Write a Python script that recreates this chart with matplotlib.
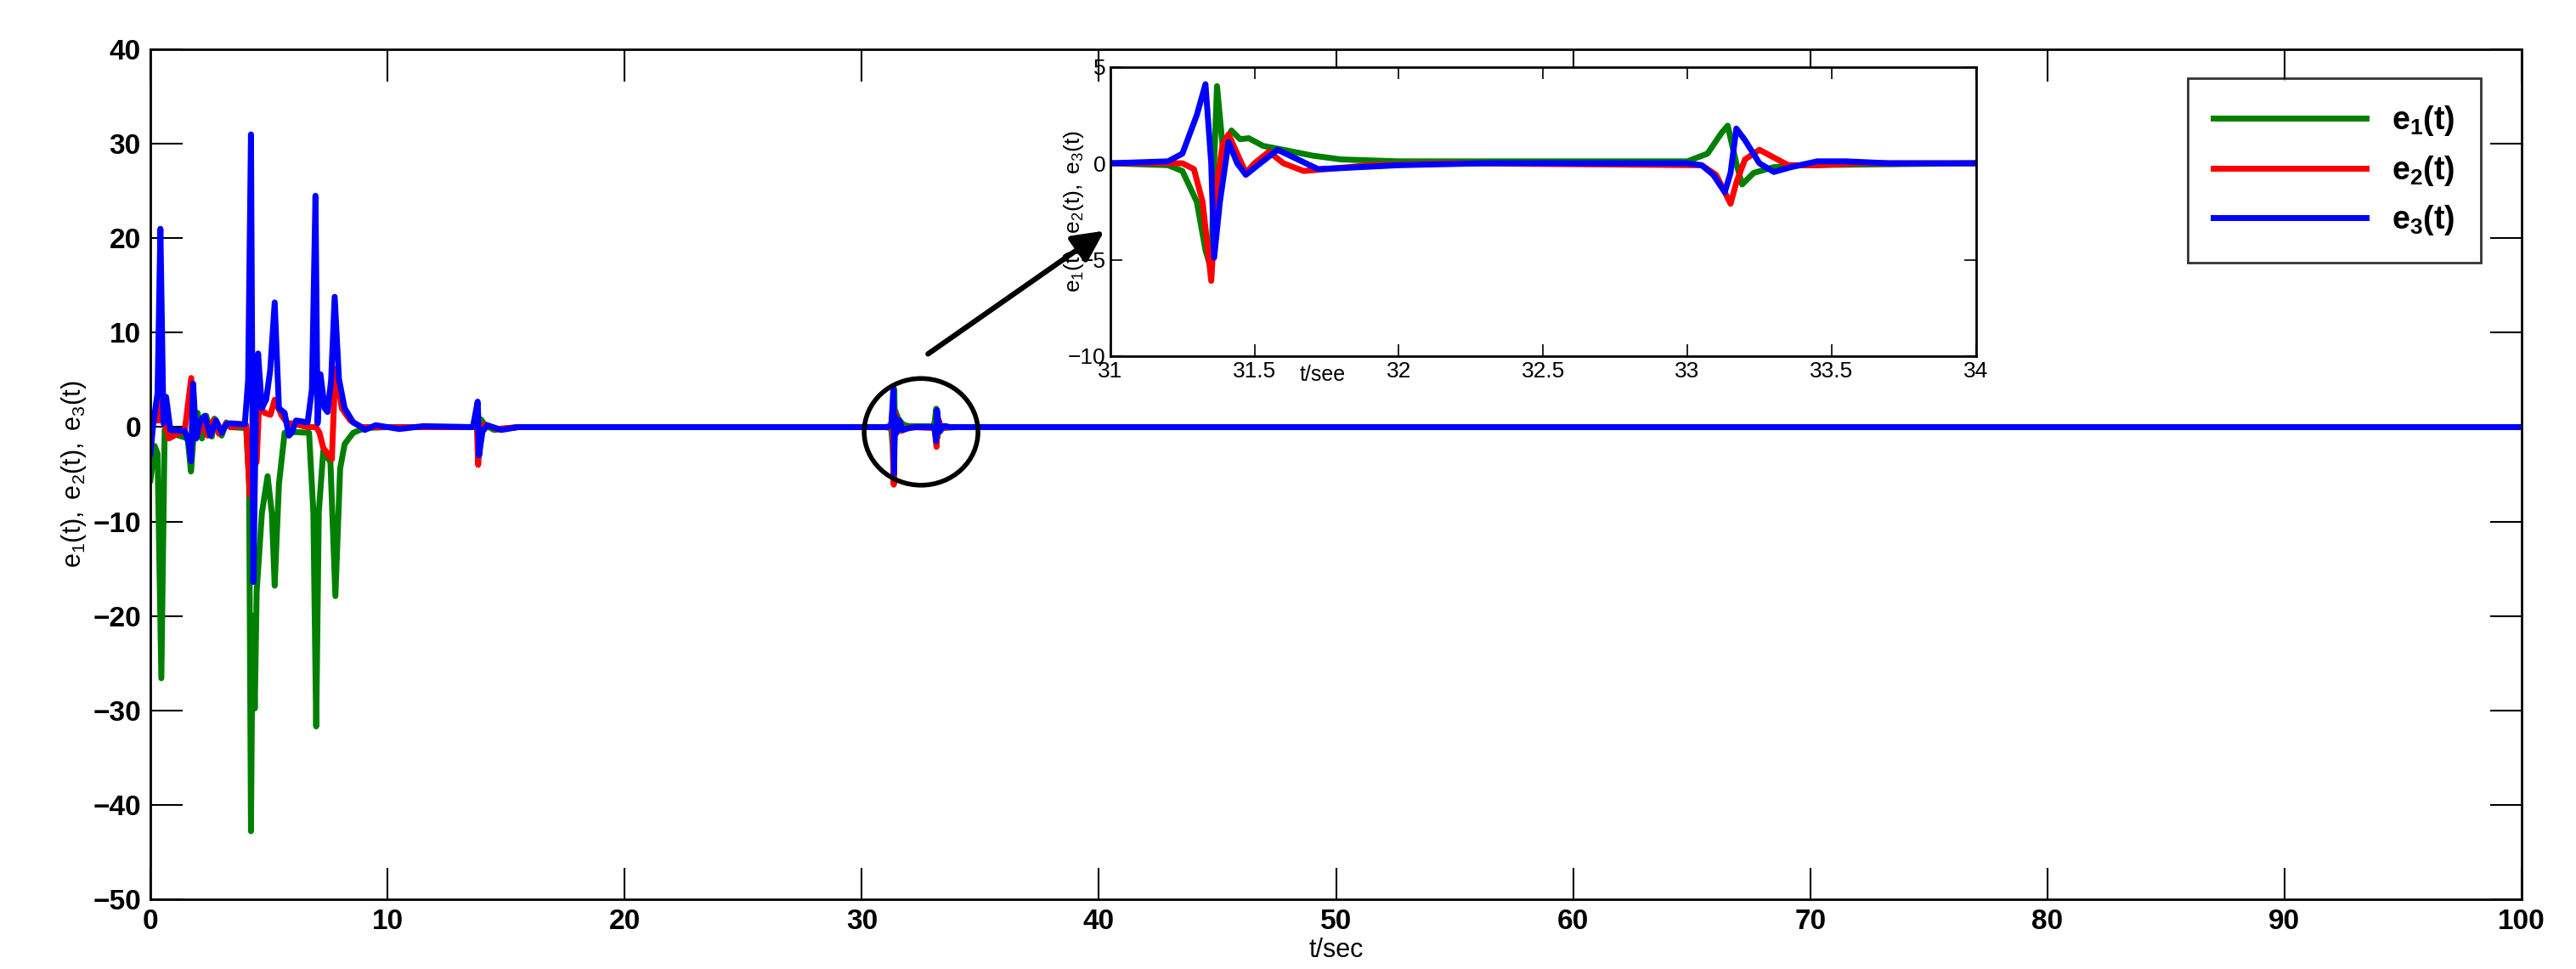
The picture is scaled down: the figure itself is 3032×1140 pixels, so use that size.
import matplotlib
matplotlib.use("Agg")
import matplotlib.pyplot as plt
from matplotlib.patches import Ellipse

# ---- data ----
t_e1 = [0, 0.18, 0.3, 0.46, 0.6, 0.72, 0.96, 1.57, 1.71, 1.83, 1.99, 2.17, 2.35, 2.59, 2.7, 3.0, 3.2, 3.37,
        4.04, 4.16, 4.24, 4.31, 4.4, 4.48, 4.7, 4.94, 5.12, 5.24, 5.42, 5.66, 5.9, 6.69, 6.87, 6.99, 7.1, 7.29,
        7.59, 7.8, 8.0, 8.19, 8.55, 9.04, 10, 13.7, 13.8, 13.86, 13.95, 14.1, 14.5, 15.5,
        31.0, 31.2, 31.25, 31.3, 31.33, 31.35, 31.36, 31.37, 31.39, 31.42, 31.45, 31.48, 31.53, 31.6, 31.7,
        31.8, 32.0, 33.0, 33.07, 33.12, 33.14, 33.17, 33.19, 33.23, 33.3, 33.4, 34.0, 100]
v_e1 = [-5.6, -2.0, -2.8, -26.6, -0.3, -0.9, -0.7, -1.2, -4.7, -0.6, 1.5, -1.2, 1.2, -1.0, 0.9, -0.9, 0.5, 0.0,
        -0.1, -6.0, -42.8, -20.0, -29.8, -17.4, -9.1, -5.2, -9.1, -16.8, -6.0, -0.6, -0.5, -0.6, -9.0, -31.7, -9.0, -2.5,
        -3.7, -17.9, -4.4, -1.8, -0.6, -0.1, 0.0, 0.0, 2.5, -1.0, 0.8, 0.2, -0.3, 0.0,
        0.0, -0.1, -0.4, -2.0, -4.5, -5.5, 0.0, 4.0, 0.8, 1.7, 1.25, 1.3, 0.9, 0.7, 0.4,
        0.2, 0.1, 0.1, 0.5, 1.6, 1.95, 0.0, -1.1, -0.5, -0.2, -0.1, 0.0, 0.0]

t_e2 = [0, 0.24, 0.36, 0.46, 0.6, 0.78, 1.45, 1.72, 1.83, 1.99, 2.17, 2.41, 2.65, 2.89, 3.2, 3.37, 4.04, 4.19,
        4.31, 4.48, 4.58, 4.82, 5.06, 5.24, 5.54, 5.78, 5.96, 6.63, 6.99, 7.13, 7.29, 7.65, 7.8, 8.07, 8.43, 8.9,
        13.6, 13.75, 13.82, 13.9, 14.1, 14.6, 15.5,
        31.0, 31.25, 31.29, 31.32, 31.35, 31.37, 31.39, 31.41, 31.44, 31.47, 31.5, 31.55, 31.6, 31.67, 31.75, 31.9,
        32.2, 33.05, 33.1, 33.15, 33.17, 33.2, 33.25, 33.3, 33.35, 33.45, 33.6, 34.0, 100]
v_e2 = [1.5, 0.7, 0.7, 4.4, 0.4, -1.2, -0.3, 5.2, -1.2, -0.9, 0.8, -0.9, 0.7, -0.7, 0.4, 0.0, 0.2, -7.2,
        -4.4, -3.7, 2.3, 1.5, 1.3, 2.9, 1.2, 0.4, 0.4, 0.0, 0.0, -0.6, -2.2, -3.4, 6.2, 2.0, 0.7, 0.0,
        0.0, 1.5, -4.0, -0.6, 0.3, -0.2, 0.0,
        0.0, 0.0, -0.3, -2.0, -6.1, -1.0, 1.0, 1.5, 0.5, -0.5, 0.0, 0.6, 0.0, -0.4, -0.3, -0.1,
        0.0, -0.1, -0.6, -2.1, -1.0, 0.2, 0.7, 0.3, -0.1, -0.1, 0.0, 0.0, 0.0]

t_e3 = [0, 0.12, 0.3, 0.42, 0.55, 0.66, 0.84, 1.45, 1.63, 1.71, 1.8, 1.93, 2.1, 2.29, 2.53, 2.77, 3.01, 3.2,
        3.37, 3.98, 4.12, 4.24, 4.34, 4.46, 4.54, 4.7, 4.88, 5.05, 5.24, 5.42, 5.66, 5.84, 5.96, 6.14, 6.63,
        6.81, 6.96, 7.05, 7.17, 7.35, 7.47, 7.62, 7.77, 7.95, 8.19, 8.55, 8.9, 9.04, 9.5, 10.5, 11.5,
        13.6, 13.8, 13.86, 14.0, 14.2, 14.8, 15.5,
        31.0, 31.2, 31.25, 31.3, 31.33, 31.35, 31.36, 31.38, 31.41, 31.44, 31.47, 31.52, 31.58, 31.65, 31.72,
        31.8, 32.0, 32.3, 33.0, 33.05, 33.09, 33.13, 33.15, 33.17, 33.2, 33.25, 33.3, 33.36, 33.45, 33.55,
        33.7, 34.0, 100]
v_e3 = [-2.8, 0.4, 3.6, 21.0, 0.4, 3.2, -0.3, -0.4, -1.8, -3.6, 4.6, -1.2, 0.7, 1.2, -0.9, 0.7, -0.6, 0.3,
        0.4, 0.3, 5.0, 31.0, -16.4, 3.6, 7.8, 2.0, 2.9, 6.0, 13.2, 2.0, 1.5, -0.9, -0.6, 0.7, 0.5,
        4.0, 24.5, 0.4, 5.6, 2.0, 1.6, 5.0, 13.8, 5.1, 2.0, 0.5, 0.0, -0.3, 0.2, -0.2, 0.1,
        0.0, 2.7, -3.0, -0.5, 0.2, -0.3, 0.0,
        0.0, 0.1, 0.5, 2.5, 4.1, 0.0, -4.9, -2.0, 1.1, 0.0, -0.6, 0.0, 0.7, 0.2, -0.3,
        -0.25, -0.1, 0.0, 0.0, -0.1, -0.6, -1.5, -0.5, 1.8, 1.2, 0.0, -0.45, -0.2, 0.1, 0.1,
        0.0, 0.0, 0.0]

labels = [r'$\mathbf{e_1(t)}$', r'$\mathbf{e_2(t)}$', r'$\mathbf{e_3(t)}$']
colors = ['#007f00', '#ff0000', '#0000ff']
main_xticks = [0, 10, 20, 30, 40, 50, 60, 70, 80, 90, 100]
main_yticks = [-50, -40, -30, -20, -10, 0, 10, 20, 30, 40]
inset_xticks = [31, 31.5, 32, 32.5, 33, 33.5, 34]
inset_yticks = [-10, -5, 0, 5]

plt.rcParams['font.family'] = ['Liberation Sans', 'DejaVu Sans']
plt.rcParams['mathtext.fontset'] = 'custom'
plt.rcParams['mathtext.rm'] = 'Liberation Sans'
plt.rcParams['mathtext.bf'] = 'Liberation Sans:bold'
plt.rcParams['mathtext.it'] = 'Liberation Sans:italic'

fig = plt.figure(figsize=(30.32, 11.4), dpi=100)
ax = fig.add_axes([0.0584, 0.072, 0.9205, 0.877])
series = [(t_e1, v_e1), (t_e2, v_e2), (t_e3, v_e3)]
for (t, v), c, lab in zip(series, colors, labels):
    ax.plot(t, v, color=c, lw=5, label=lab, solid_joinstyle='round')
ax.set_xlim(0, 100)
ax.set_ylim(-50, 40)
ax.set_xticks(main_xticks)
ax.set_yticks(main_yticks)
ax.tick_params(direction='in', length=27, width=1.5, top=True, right=True, labelsize=24, pad=8)
for lab in ax.get_xticklabels() + ax.get_yticklabels():
    lab.set_fontweight('bold')
for s in ax.spines.values():
    s.set_linewidth(2)
ax.set_xlabel('t/sec', fontsize=22, labelpad=2)
ax.set_ylabel(r'$\mathrm{e_1(t),\ e_2(t),\ e_3(t)}$', fontsize=22, labelpad=4)
leg = ax.legend(loc='upper right', bbox_to_anchor=(0.9895, 0.985), fontsize=27, frameon=True,
                fancybox=False, edgecolor='black', handlelength=4.8, borderpad=0.8, labelspacing=0.5)
leg.get_frame().set_linewidth(2)

# circle and arrow
ax.add_patch(Ellipse((32.5, -0.5), 4.8, 11.3, fill=False, lw=4, color='black', zorder=5))
ax.annotate('', xy=(1302, 870), xycoords='figure pixels', xytext=(1090, 722), textcoords='figure pixels',
            arrowprops=dict(arrowstyle='-|>', lw=4.5, color='black', mutation_scale=55))

# inset
axi = fig.add_axes([0.431, 0.6325, 0.336, 0.2985])
for (t, v), c in zip(series, colors):
    axi.plot(t, v, color=c, lw=5, solid_joinstyle='round')
axi.set_xlim(31, 34)
axi.set_ylim(-10, 5)
axi.set_xticks(inset_xticks)
axi.set_xticklabels(['31', '31.5', '32', '32.5', '33', '33.5', '34'])
axi.set_yticks(inset_yticks)
axi.tick_params(direction='in', length=10, width=1.2, top=True, right=True, labelsize=19, pad=4)
for s in axi.spines.values():
    s.set_linewidth(2)
axi.set_xlabel('t/see', fontsize=18)
axi.xaxis.set_label_coords(0.245, -0.03)
axi.set_ylabel(r'$\mathrm{e_1(t),\ e_2(t),\ e_3(t)}$', fontsize=19)
axi.yaxis.set_label_coords(-0.028, 0.5)

fig.savefig('out.png', dpi=100)
